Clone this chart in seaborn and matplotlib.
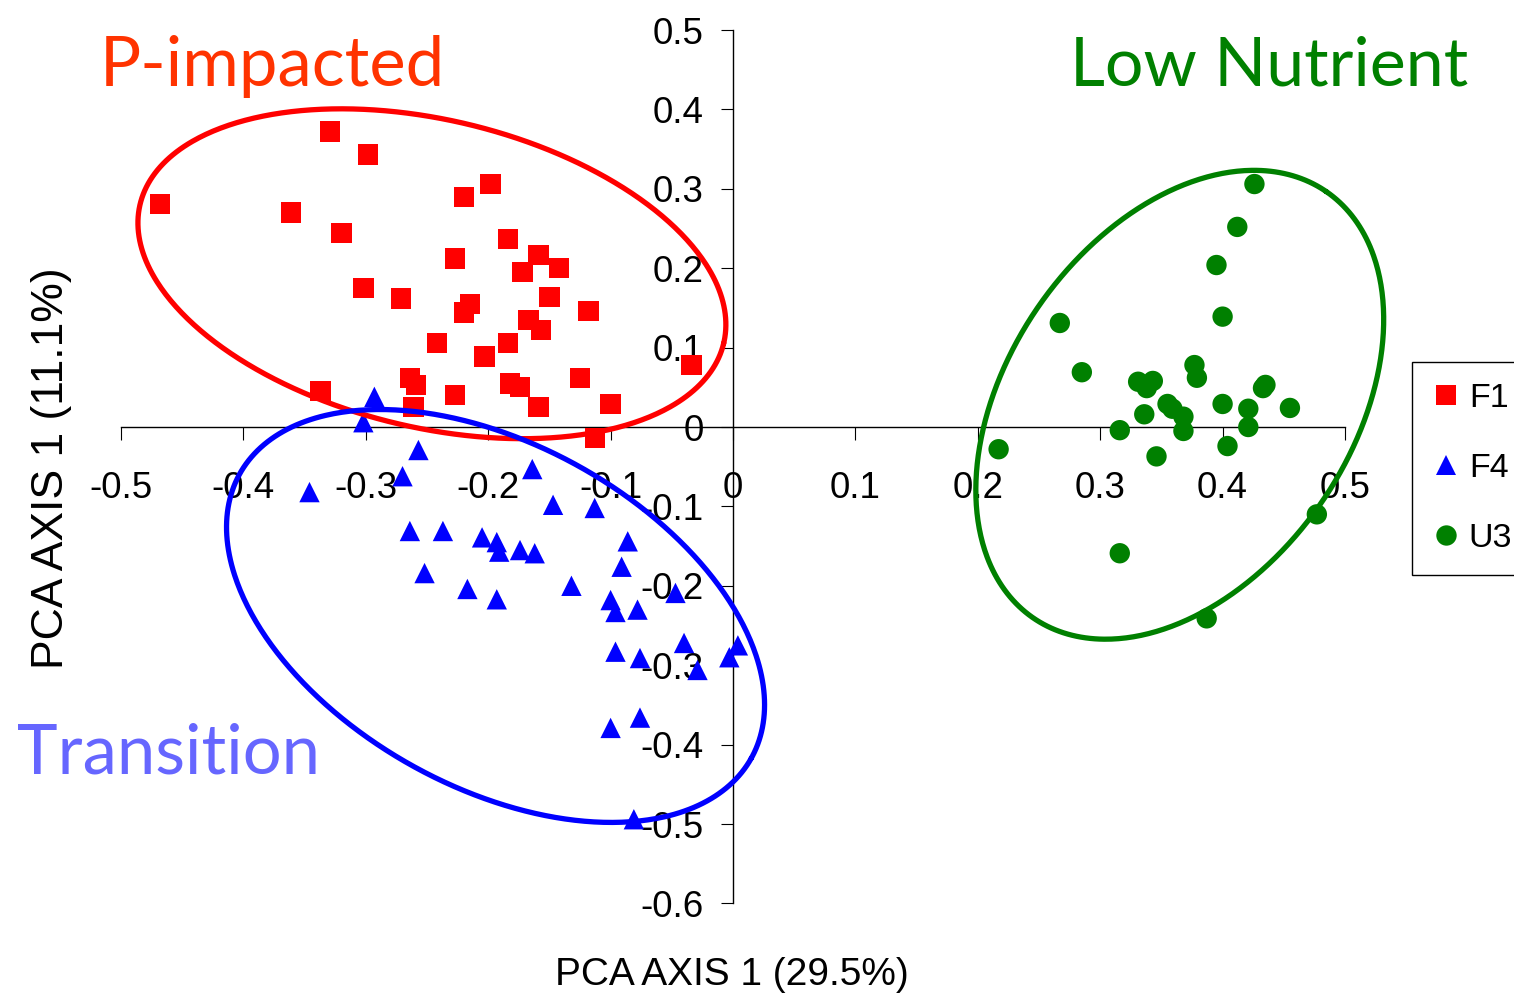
import numpy as np
import pandas as pd
import matplotlib
matplotlib.use("Agg")
import matplotlib.pyplot as plt
import seaborn as sns

# ---------------- data ----------------
f1_x = [-0.468, -0.329, -0.298, -0.361, -0.320, -0.220, -0.198, -0.227, -0.302, -0.271,
        -0.215, -0.220, -0.184, -0.159, -0.172, -0.142, -0.150, -0.118, -0.167, -0.157,
        -0.242, -0.184, -0.203, -0.034, -0.337, -0.264, -0.259, -0.261, -0.227, -0.182,
        -0.174, -0.125, -0.159, -0.100, -0.113]
f1_y = [0.281, 0.372, 0.343, 0.270, 0.244, 0.290, 0.306, 0.212, 0.175, 0.162,
        0.155, 0.144, 0.237, 0.217, 0.195, 0.200, 0.164, 0.146, 0.135, 0.122,
        0.106, 0.106, 0.089, 0.078, 0.045, 0.062, 0.053, 0.025, 0.040, 0.055,
        0.050, 0.062, 0.025, 0.029, -0.014]

f4_x = [-0.346, -0.293, -0.302, -0.257, -0.270, -0.164, -0.264, -0.237, -0.205, -0.193,
        -0.191, -0.174, -0.162, -0.147, -0.113, -0.086, -0.091, -0.252, -0.217, -0.193,
        -0.132, -0.100, -0.096, -0.078, -0.047, -0.096, -0.076, -0.040, -0.029, -0.003,
        0.004, -0.100, -0.076, -0.081]
f4_y = [-0.082, 0.038, 0.006, -0.029, -0.062, -0.053, -0.131, -0.131, -0.139, -0.145,
        -0.157, -0.155, -0.159, -0.098, -0.102, -0.144, -0.176, -0.184, -0.204, -0.217,
        -0.200, -0.218, -0.233, -0.230, -0.209, -0.283, -0.291, -0.272, -0.306, -0.290,
        -0.275, -0.379, -0.366, -0.494]

u3_x = [0.426, 0.412, 0.395, 0.400, 0.267, 0.285, 0.331, 0.343, 0.338, 0.377,
        0.379, 0.435, 0.433, 0.355, 0.359, 0.368, 0.400, 0.421, 0.455, 0.336,
        0.316, 0.368, 0.421, 0.217, 0.346, 0.404, 0.316, 0.477, 0.387]
u3_y = [0.306, 0.252, 0.204, 0.139, 0.131, 0.069, 0.057, 0.058, 0.049, 0.078,
        0.062, 0.053, 0.049, 0.029, 0.023, 0.013, 0.029, 0.023, 0.024, 0.016,
        -0.004, -0.005, 0.000, -0.028, -0.037, -0.024, -0.159, -0.110, -0.241]

groups = ["F1", "F4", "U3"]
group_colors = {"F1": "#FF0000", "F4": "#0000FF", "U3": "#008000"}
group_markers = {"F1": "s", "F4": "^", "U3": "o"}

x_ticks = [-0.5, -0.4, -0.3, -0.2, -0.1, 0.0, 0.1, 0.2, 0.3, 0.4, 0.5]
x_tick_labels = ["-0.5", "-0.4", "-0.3", "-0.2", "-0.1", "0", "0.1", "0.2", "0.3", "0.4", "0.5"]
y_ticks = [-0.6, -0.5, -0.4, -0.3, -0.2, -0.1, 0.0, 0.1, 0.2, 0.3, 0.4, 0.5]
y_tick_labels = ["-0.6", "-0.5", "-0.4", "-0.3", "-0.2", "-0.1", "0", "0.1", "0.2", "0.3", "0.4", "0.5"]

# confidence ellipses: centre and two semi-axis vectors (data units)
ell_cx = [-0.246, -0.194, 0.365]
ell_cy = [0.193, -0.238, 0.028]
ell_ux = [0.2384, 0.2090, 0.1197]
ell_uy = [-0.0875, -0.1790, 0.2685]
ell_vx = [-0.0291, -0.0680, 0.1159]
ell_vy = [-0.1884, -0.1886, -0.1228]

group_titles = ["P-impacted", "Transition", "Low Nutrient"]
title_colors = ["#FF3300", "#6666FF", "#008000"]

x_label = "PCA AXIS 1 (29.5%)"
y_label = "PCA AXIS 1 (11.1%)"

# ---------------- figure ----------------
sns.set_theme(style="white")
plt.rcParams["font.family"] = ["Liberation Sans", "DejaVu Sans"]
plt.rcParams["axes.unicode_minus"] = False
plt.rcParams["text.color"] = "black"
plt.rcParams["xtick.color"] = "black"
plt.rcParams["ytick.color"] = "black"

W, H = 1514, 997
fig = plt.figure(figsize=(W / 100, H / 100), dpi=100)
ax = fig.add_axes([0, 0, 1, 1])
ax.set_facecolor("white")
fig.patch.set_facecolor("white")

df = pd.DataFrame({
    "x": f1_x + f4_x + u3_x,
    "y": f1_y + f4_y + u3_y,
    "group": ["F1"] * len(f1_x) + ["F4"] * len(f4_x) + ["U3"] * len(u3_x),
})

sns.scatterplot(data=df, x="x", y="y", hue="group", style="group",
                hue_order=groups, style_order=groups,
                palette=group_colors, markers=group_markers,
                s=215, linewidth=0, ax=ax, zorder=3, legend=True)

# ellipses
t = np.linspace(0, 2 * np.pi, 500)
ell_colors = ["#FF0000", "#0000FF", "#008000"]
for i in range(3):
    ex = ell_cx[i] + ell_ux[i] * np.cos(t) + ell_vx[i] * np.sin(t)
    ey = ell_cy[i] + ell_uy[i] * np.cos(t) + ell_vy[i] * np.sin(t)
    ax.plot(ex, ey, color=ell_colors[i], lw=3.8, zorder=4, solid_capstyle="round")

# axes limits so that the canvas maps onto data like the reference
ax.set_xlim(-733 / 1224, (W - 733) / 1224)
ax.set_ylim((427 - H) / 794, 427 / 794)

for side in ["top", "right"]:
    ax.spines[side].set_visible(False)
ax.spines["bottom"].set_position(("data", 0))
ax.spines["left"].set_position(("data", 0))
ax.spines["bottom"].set_bounds(-0.5, 0.5)
ax.spines["left"].set_bounds(-0.6, 0.5)
for side in ["bottom", "left"]:
    ax.spines[side].set_color("black")
    ax.spines[side].set_linewidth(1.0)

ax.set_xticks(x_ticks)
ax.set_xticklabels(x_tick_labels)
ax.set_yticks(y_ticks)
ax.set_yticklabels(y_tick_labels)
ax.tick_params(axis="x", direction="out", length=9, width=0.8, color="black",
               labelcolor="black", labelsize=26.5, pad=23, bottom=True)
ax.tick_params(axis="y", direction="out", length=9, width=0.8, color="black",
               labelcolor="black", labelsize=26.5, pad=12, left=True)
ax.set_xlabel("")
ax.set_ylabel("")
ax.grid(False)

# axis titles
ax.text(732 / W, 1 - 985 / H, x_label, transform=ax.transAxes, ha="center",
        va="baseline", fontsize=28, color="black")
ax.text(52 / W, 1 - 468 / H, y_label, transform=ax.transAxes, ha="center",
        va="center", rotation=90, fontsize=32, color="black")

# group titles
ax.text(100 / W, 1 - 86 / H, group_titles[0], transform=ax.transAxes, ha="left",
        va="baseline", fontsize=49.5, family="Lato", color=title_colors[0])
ax.text(17 / W, 1 - 773 / H, group_titles[1], transform=ax.transAxes, ha="left",
        va="baseline", fontsize=49.5, family="Lato", color=title_colors[1])
ax.text(1468 / W, 1 - 86 / H, group_titles[2], transform=ax.transAxes, ha="right",
        va="baseline", fontsize=49, family="Lato", color=title_colors[2])

# legend
old = ax.get_legend()
handles = old.legend_handles
labels = [tx.get_text() for tx in old.texts]
old.remove()
leg = ax.legend(handles, labels, loc="upper left",
                bbox_to_anchor=(1412 / W, 1 - 362 / H), bbox_transform=ax.transAxes,
                borderaxespad=0, frameon=True, fancybox=False, fontsize=24.5,
                handlelength=0.75, handletextpad=0.3, borderpad=0.62,
                labelspacing=1.15, markerscale=1.0)
leg.get_frame().set_edgecolor("black")
leg.get_frame().set_linewidth(1.0)
leg.get_frame().set_alpha(1)
for tx in leg.get_texts():
    tx.set_color("black")

fig.savefig("out.png", dpi=100, facecolor="white")
